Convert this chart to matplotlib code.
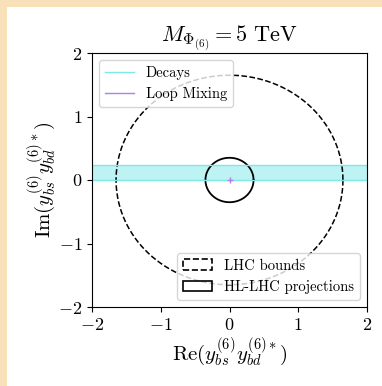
import numpy as np
import matplotlib
matplotlib.use('Agg')
import matplotlib.pyplot as plt
from matplotlib.lines import Line2D
from matplotlib.patches import Patch, Rectangle

plt.rcParams['mathtext.fontset'] = 'cm'
plt.rcParams['font.family'] = 'serif'
plt.rcParams['font.serif'] = ['cmr10']
plt.rcParams['axes.formatter.use_mathtext'] = True

# data
lhc_radius = 1.65
hllhc_radius = 0.35
decay_band = [0.0, 0.23]
loop_point = [0.0, 0.0]
ticks = [-2, -1, 0, 1, 2]

fig = plt.figure(figsize=(3.82, 3.86), dpi=100, facecolor='#f8e0b8')
fig.patches.append(Rectangle((7 / 382, 0), 1, 1 - 7 / 386, transform=fig.transFigure,
                             facecolor='white', edgecolor='none', zorder=-1))
ax = fig.add_axes([92 / 382, 1 - 307 / 386, 275 / 382, 254 / 386])

theta = np.linspace(0, 2 * np.pi, 400)
ax.plot(lhc_radius * np.cos(theta), lhc_radius * np.sin(theta), 'k--', lw=1.1)
ax.plot(hllhc_radius * np.cos(theta), hllhc_radius * np.sin(theta), 'k-', lw=1.3)

ax.axhspan(decay_band[0], decay_band[1], color='#7fe8e8', alpha=0.5, lw=0)
ax.axhline(decay_band[0], color='#7fe8e8', lw=1)
ax.axhline(decay_band[1], color='#7fe8e8', lw=1)
ax.plot(loop_point[0], loop_point[1], '+', color='#b07fe8', ms=5, mew=1)

ax.set_xlim(-2, 2)
ax.set_ylim(-2, 2)
ax.set_xticks(ticks)
ax.set_yticks(ticks)
ax.tick_params(labelsize=13)
ax.set_xlabel(r'$\mathrm{Re}(y_{bs}^{(6)}y_{bd}^{(6)*})$', fontsize=15, labelpad=2)
ax.set_ylabel(r'$\mathrm{Im}(y_{bs}^{(6)}y_{bd}^{(6)*})$', fontsize=15, labelpad=0)
ax.set_title(r'$M_{\Phi_{(6)}} = 5\ \mathrm{TeV}$', fontsize=16, pad=5)

h1 = [Line2D([], [], color='#7fe8e8', lw=1), Line2D([], [], color='#b07fe8', lw=1)]
leg1 = ax.legend(h1, ['Decays', 'Loop Mixing'], loc='upper left', fontsize=10.5)
ax.add_artist(leg1)
h2 = [Patch(facecolor='none', edgecolor='k', ls='--', lw=1.2),
      Patch(facecolor='none', edgecolor='k', lw=1.2)]
ax.legend(h2, ['LHC bounds', 'HL-LHC projections'], loc='lower right', fontsize=10.5)

fig.savefig('out.png', dpi=100, facecolor=fig.get_facecolor())
